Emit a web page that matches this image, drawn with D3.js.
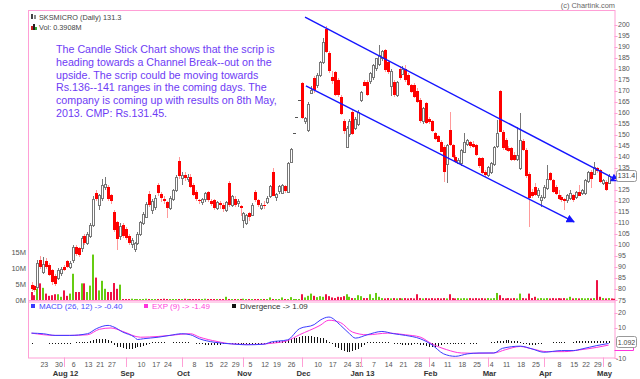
<!DOCTYPE html>
<html><head><meta charset="utf-8">
<script src="https://cdn.jsdelivr.net/npm/d3@7"></script>
<style>body{margin:0;background:#fff}svg{display:block;font-family:"Liberation Sans",Arial,sans-serif}</style>
</head><body><svg id="c" width="640" height="379"></svg>
<script>
// ---------- categories ----------
const firstDay = "2012-07-17", lastDay = "2013-05-06";
const holidays = ["2012-08-15","2012-08-20","2012-09-19","2012-10-02","2012-10-24","2012-11-14","2012-11-28",
  "2012-12-25","2013-03-27","2013-03-29","2013-04-19","2013-04-24","2013-05-01"];
const weekTicks = [["2012-07-23","23"],["2012-07-30","30"],["2012-08-06","6"],["2012-08-13","13"],["2012-08-21","21"],["2012-08-27","27"],
  ["2012-09-10","10"],["2012-09-17","17"],["2012-09-24","24"],["2012-10-08","8"],["2012-10-15","15"],["2012-10-22","22"],["2012-10-29","29"],
  ["2012-11-05","5"],["2012-11-12","12"],["2012-11-19","19"],["2012-11-26","26"],["2012-12-10","10"],["2012-12-17","17"],["2012-12-24","24"],
  ["2012-12-31","31"],["2013-01-07","7"],["2013-01-14","14"],["2013-01-21","21"],["2013-01-28","28"],["2013-02-04","4"],["2013-02-11","11"],
  ["2013-02-18","18"],["2013-02-25","25"],["2013-03-04","4"],["2013-03-11","11"],["2013-03-18","18"],["2013-03-25","25"],["2013-04-08","8"],
  ["2013-04-15","15"],["2013-04-22","22"],["2013-04-29","29"],["2013-05-06","6"]];
const monthTicks = [["2012-08-01","Aug 12"],["2012-09-03","Sep"],["2012-10-01","Oct"],["2012-11-01","Nov"],["2012-12-03","Dec"],
  ["2013-01-01","Jan 13"],["2013-02-01","Feb"],["2013-03-01","Mar"],["2013-04-01","Apr"],["2013-05-02","May"]];
const priceTicks = [200,195,190,185,180,175,170,165,160,155,150,145,140,135,130,125,120,115,110,105,100,95,90,85,80,75];
const volTicks = [[0,"0M"],[5,"5M"],[10,"10M"],[15,"15M"]];
const macdTicks = [20,10,-10];

// ---------- series ----------
const open = [82,81.5,81,93,88,92.5,91,88.5,86,85,87,90,92.5,90,93,99,98.5,98.5,104,101,104,109,123.5,118,121,126,126.4,122.5,115,110.5,
 104,109,107,104,100,98,101,105,110,112.7,123,116,117.5,127,123,121,119.5,117,121,125,138,130,131.5,130,131,127,124,120.5,119.5,120.5,
 124,120,120.4,117,119,118,115.8,128,118,121,119,117.5,111,110,114.4,113.7,124.2,120.4,117,118,119.5,122,133.2,121.5,124.2,123.5,126.5,124,137.8,150.6,
 158,165.7,173.4,156,152,169,175.6,172.6,177,183,198,187,176,178.6,174.8,167.3,156,144.6,150,160.5,153,155,165.7,174.1,174,174.1,176,180,182,185,
 188.4,183,172.4,174.1,168,180,177.8,180,177,172.5,172.5,170,165.7,156,164.2,157,156,150.6,149.5,146.8,144.6,137,152,145.3,140,137.5,137,142.3,146,146.5,
 146,145.3,139.3,139.3,133.2,131.7,133,137,144.6,170,151,147.6,144,143.8,141,139,135,147,143,132,124,126.4,122.6,120.4,121.9,126,132.5,129.5,126.4,122.6,
 121.9,121,120.4,121.2,122.6,121.9,124.2,123.4,123.4,128.7,133,132.5,134.7,134,128,128.7,128];
const high = [83,82,93,95,94.5,94,92,89,87,89.5,90,91,93,92.5,100,100,99,104,105,106,110,122,125,123,130,131,127,123,116,111,
 110,110,108,105,103,101.5,106,111,115,119.5,124.5,121,122.5,128,124,122,120,122,125.5,131.5,140,133,133,132,132,128,125,121,121.5,124,
 124.5,121,121,120,120,119,120,129,122.5,122,121,118,115,114,115,119,125,121,119,120,122,127,134.7,123.5,127,127.5,127,137.5,144,150.6,
 158,165.7,174,158,165,172,176.5,178,183.5,194,199.5,188,179,179,175.5,168,157,154,157,161,158,161,170,175,175,178.5,182,185,190.7,188.5,
 189,184,180,175,174.5,181,181,181.5,178,173,173.5,171,166.5,162.5,165,158,156.5,151,150,147.5,145.5,146,160.5,146,141,139.5,143.5,150.6,148,147,
 147,146,140,140,134,136,137.5,145,156.7,170.5,152,148.5,145,144.5,142,153.6,160,148,144,133,125.5,128,126,122.5,127,136.2,133,130,127,125,
 122.5,121.5,123,125,123,124.5,127,125.5,130,133.5,134,137.8,135.5,134.5,130,129.5,132];
const low = [79,78.5,80,89,87,89,86,82,81.5,84,86,88,89.5,89,92,95,94.5,97,100,100,103,108,120,116,120,125,120,118.5,106,97.7,
 102,103,102,100,98.5,97,100,104,109,112,117,114,116,122,119.5,118.5,112,116,120,124,130,127,129,128.5,126,122,120,118.5,118,119.5,
 119.5,117.5,116,116,116.5,115,115,117,117,117,117,113,107.6,109,111,113,119.5,117,116,116.5,118.5,121.5,122,120,123,123,123.5,123.4,137,150.6,
 158,165.7,157,155,151,168.5,169,171,176,182,187,178,173,167.5,167,159,150.5,144,149,150,152,154,165,172,167.5,173,175,179,181,183.5,
 178.5,177.5,167.5,167,167,175,177,174,172,169,166.5,164.5,155.5,155,155,155,151,147.5,146.5,142,128.7,128,145,139.5,137,137,136,141.5,145,144,
 144,140.5,135,132,131,131,132,136,144,151,143,142.5,142,138,138,138,134,142.5,130.5,108,121.5,122,121.5,117.3,121,125,129,123.5,122.5,120.5,
 119.5,116,118.8,120.5,119.5,121,122,122.5,122.5,128,126,131.5,132.5,128,127,124.5,127.5];
const close = [80,79.5,92,90,91.5,90,86.5,83,82.5,88.5,89,88.5,90,92,99,96,95.5,103,101,105,109,121,121,122.5,127,127.5,121,120,107,103,
 108.5,104,103,101,102,100.7,105,110.5,114,118.7,118,120,121.5,123.4,121,120,117,121.5,124.9,131,131,131.5,130,131,126.5,122.5,121,120,121,123.4,
 120.4,118.5,116.7,119.5,118,116,119.5,118,122,118.5,120,116.5,114.4,113.5,112.5,118.2,120.4,118,118.2,117.5,121.5,126.5,122.5,123,126.5,127,124.2,137,143.5,150.6,
 158,165.7,157.5,157.5,164,170.5,170.3,177,183,192,187.6,179,174,168,168,159.7,151.4,153,156,150.6,157,160.5,169.5,172.5,168,177.8,181.6,184.6,186,188,
 179.4,178.6,179,168,174,176,180,174.8,172.6,169.5,167,165,156,162,155.2,155.5,151.4,148,147,142.3,133.3,145.4,145.3,140,137.7,138.7,143,146.8,147.6,144.6,
 144.6,140.8,135.5,132.5,131.7,135.5,137,144.6,150.6,151.5,143.8,143,142.5,138.5,138.7,141,147.6,143,131,121,122,122.6,124.9,121.9,126.4,130,129.5,124.2,123.4,121,
 120.4,120,122.6,123.4,120.4,124.2,122.6,124.9,129.4,133,130,135.5,133.2,128.7,129.4,124.9,131.3];
const volume = [2.5,1.5,3.5,5.2,3.8,2,1.3,1.5,1.8,1.8,1,3,1.3,2,8.2,2.5,2.5,5.2,5.2,2.5,4.5,14.2,7,3,6,3.5,2.5,2.5,5.3,3.5,4.8,
 0.3,0.3,0.2,0.4,0.3,0.3,0.2,0.3,0.4,0.3,0.3,0.2,0.3,0.3,0.4,0.3,0.3,0.3,0.2,0.3,0.3,0.4,0.3,0.3,0.2,0.3,0.3,0.3,0.4,0.3,
 0.2,0.3,0.3,0.3,0.3,1.0,0.3,0.3,0.2,0.3,0.3,0.4,0.3,0.3,0.3,0.2,0.3,0.3,0.3,0.3,0.8,0.3,0.3,0.3,0.8,0.3,0.3,0.9,0.3,0.3,0.3,
 1.8,0.8,1.3,2.0,1.3,0.9,1.2,1.0,1.8,1.2,0.8,0.6,1.0,0.9,1.2,1.8,1.0,0.6,0.6,1.5,1.2,0.6,0.6,1.8,0.6,2.2,1.0,0.6,0.5,0.6,0.5,0.6,
 0.5,0.6,0.5,0.6,0.5,0.6,0.5,1.8,0.6,0.5,0.6,0.5,0.6,0.5,0.6,0.5,0.6,0.5,1.8,0.6,0.5,0.6,0.5,0.6,0.5,0.6,0.5,0.6,0.5,0.6,0.5,0.6,0.5,
 0.6,2.2,1.5,0.6,0.5,0.6,0.5,0.6,0.5,2.0,0.6,0.5,2.0,0.6,1.0,0.5,0.6,0.5,0.6,0.5,0.6,0.5,0.6,0.5,0.6,0.5,1.0,0.5,0.6,0.5,0.6,0.5,0.6,0.5,
 0.6,6.2,1.0,0.6,0.5,0.6,0.5,0.4];
const divergence = [-0.3,0,0,0,0,0, -0.3,-0.3,-0.3,-0.3,-0.3,-0.3,-0.3,-0.3, 0, 0.4,0.5,0.5,0.6,0.8, 1.5,2,2.3,2.7,2.7,2.5,2,1,
 -1.5,-2.5,-3,-3.5,-4,-4,-4,-3.5,-3,-2.5,-2,-1.5, -0.5, 0.3,0.3,0.3,0.3,0.3, 0,0, 0.4,0.4,0.4,0.4,0.4,0.4, 0,0,
 -0.5,-1,-1,-1.3,-1.5,-1.5,-1.5,-1.3,-1.2,-1,-1,-0.8,-0.5, -0.3,-0.3, -0.6,-0.6,-0.5,-0.5,-0.5,-0.4,-0.4,-0.3,-0.3,-0.2,
 0.5,0.8,1,1.2,1.3,1.5,1.8, 2.5,3,3.5,4,4.3,4.5,4.5,4.3,4,3.8,3.5, 3,2,0.5,-1,-2.5, -3.5,-4.5,-5.5,-6,-6,-5.5,-5,-4,-3,-1.5,
 0.3,0.3,0.3,0.3,0.3,0.3,0.3,0.3, 0, -0.8,-1,-1,-1.1,-1.2,-1.2,-1.1,-1,-1,-1.2, -1.5,-2,-2.5,-2.5,-2.5,-2,-1.5,
 -0.5,-0.4,-0.3,-0.3,-0.3,-0.3,-0.3,-0.2,0, 0.2,0.2,0.1,0,0,0,0,0.3,0.6, 1,1.3,1.5,1.8,1.8,1.5,1.3,1,0.8,
 -0.5,-1,-1.2,-1.3,-1.2,-1,-0.5, 0,0,0,0.3,0.3,0.3,0.3,0.3,0,0, 0.8,1,1.2,1.3,1.4,1.5,1.5,1.4,1.3,1.2,1.1,1.1,1.09];
// MACD and signal lines, read at points [day index, value]
const macdPts = [[0,6.4],[4,6],[8,4.9],[13,4.9],[19,6],[22,9.3],[26,11.5],[28,10.4],[31,7.1],[35,3.7],[36,2.2],[38,2.7],[43,3.7],
 [47,4.9],[51,6],[54,5.3],[57,2.7],[62,0.4],[68,-0.7],[73,-1.3],[79,-0.9],[81,0.4],[87,2],[91,9.3],[96,12],[98,14.9],[101,17],
 [105,11.5],[108,6],[110,3.1],[114,5.3],[119,7.5],[123,6],[127,4.9],[132,2.7],[136,-1.3],[140,-7.3],[144,-8.9],[148,-7.3],
 [152,-6.7],[157,-6.7],[160,-3.6],[166,-2.2],[170,-4],[174,-6.2],[180,-5.1],[184,-5.1],[187,-4],[192,-1.8],[196,-0.4]];
const signalPts = [[0,6.4],[8,4.9],[13,4.9],[19,5.3],[23,8.9],[27,9.8],[31,7.5],[37,3.7],[43,4.2],[47,4.9],[54,6],[57,3.8],[63,0.9],
 [68,-0.7],[75,-1.1],[82,-0.2],[87,1.5],[91,5.3],[98,11.5],[101,14.9],[105,13.3],[109,7.1],[114,5.3],[121,6.4],[127,5.3],[132,3.8],
 [136,-0.7],[141,-4.5],[146,-6.7],[151,-6.9],[157,-6.7],[161,-4.5],[166,-2.4],[170,-4],[175,-5.8],[181,-5.8],[186,-4.7],[192,-3],[196,-1.49]];
// channel lines [day index, price]
const channelUpper = [[92.9,203.4],[199.4,129.0]];
const channelLower = [[93.2,172.1],[184.3,110.4]];
const noteLines = ["The Candle Stick Chart shows that the scrip is","heading towards a Channel Break--out on the",
 "upside. The scrip could be moving towards","Rs.136--141 ranges in the coming days. The",
 "company is coming up with results on 8th May,","2013. CMP: Rs.131.45."];

// ---------- build ----------
const parse = d3.utcParse("%Y-%m-%d"), fmt = d3.utcFormat("%Y-%m-%d");
const hol = new Set(holidays);
const days = d3.utcDay.range(parse(firstDay), d3.utcDay.offset(parse(lastDay),1))
  .filter(d => d.getUTCDay()>0 && d.getUTCDay()<6 && !hol.has(fmt(d))).map(fmt);
const idx = new Map(days.map((d,i)=>[d,i]));
const N = close.length;

const svg = d3.select("#c");
const PINK = "#ff9fd6", AX = "#555";
const L = 28, R = 614.5, T = 10, PB = 300, MT = 301.5, MB = 357.5;

const x = d3.scaleLinear().domain([0, N-1]).range([31.5, 608.6]);
const y = d3.scaleLinear().domain([75,200]).range([300,24.5]);
const yv = d3.scaleLinear().domain([0,15]).range([300,252]);
const ym = d3.scaleLinear().domain([-10,20]).range([358,312.5]);
const px = i => Math.round(x(i));

// frame
svg.append("rect").attr("x",L+0.5).attr("y",T+0.5).attr("width",R-L).attr("height",MB-T)
  .attr("fill","none").attr("stroke",PINK);
svg.append("line").attr("x1",L).attr("x2",R+1).attr("y1",PB+0.5).attr("y2",PB+0.5).attr("stroke",PINK);
svg.append("line").attr("x1",L).attr("x2",R+1).attr("y1",MT+0.5).attr("y2",MT+0.5).attr("stroke",PINK);

// volume
const gV = svg.append("g");
volume.forEach((v,i)=>{
  const h = Math.max(1, yv(0)-yv(v));
  gV.append("rect").attr("x",px(i)-1).attr("y",yv(0)-h).attr("width",2).attr("height",h)
    .attr("fill", close[i]>=open[i] ? "#66cc11" : "#ee1144");
});

// candles
const gC = svg.append("g").attr("shape-rendering","crispEdges");
for (let i=0;i<N;i++){
  const cx = px(i), up = close[i]>=open[i];
  const yt = y(Math.max(open[i],close[i])), yb = y(Math.min(open[i],close[i]));
  if (high[i]===low[i]) {
    gC.append("rect").attr("x",cx-1).attr("y",Math.round(y(close[i]))).attr("width",3).attr("height",1).attr("fill","#555");
    continue;
  }
  gC.append("line").attr("x1",cx+0.5).attr("x2",cx+0.5).attr("y1",y(high[i])).attr("y2",y(low[i]))
    .attr("stroke", up ? "#777" : "#ff9a9a").attr("stroke-width",1);
  if (up) {
    gC.append("rect").attr("x",cx-0.5).attr("y",Math.round(yt)+0.5).attr("width",2).attr("height",Math.max(1,Math.round(yb-yt)))
      .attr("fill","#fff").attr("stroke","#777");
  } else {
    gC.append("rect").attr("x",cx-1).attr("y",Math.round(yt)).attr("width",3).attr("height",Math.max(1,Math.round(yb-yt)))
      .attr("fill","#ff0000");
  }
}

// channel lines
const defs = svg.append("defs");
defs.append("marker").attr("id","arr").attr("viewBox","0 0 10 10").attr("refX",9).attr("refY",5)
  .attr("markerWidth",6).attr("markerHeight",6).attr("markerUnits","strokeWidth").attr("orient","auto")
  .append("path").attr("d","M0,0L10,5L0,10Z").attr("fill","#1515ff");
[channelUpper, channelLower].forEach(c=>{
  svg.append("line").attr("x1",x(c[0][0])).attr("y1",y(c[0][1])).attr("x2",x(c[1][0])).attr("y2",y(c[1][1]))
    .attr("stroke","#1515ff").attr("stroke-width",1.4).attr("marker-end","url(#arr)");
});

// price axis (right); the last-price box hides labels under it
const lp = close[N-1];
const gA = svg.append("g").attr("font-size","7px").attr("fill",AX);
priceTicks.forEach(p=>{
  svg.append("line").attr("x1",R).attr("x2",R+3).attr("y1",Math.round(y(p))+0.5).attr("y2",Math.round(y(p))+0.5).attr("stroke",PINK);
  if (Math.abs(y(p)-y(lp)) < 8) return;
  gA.append("text").attr("x",618).attr("y",y(p)+2.5).text(p);
});
svg.append("rect").attr("x",616.5).attr("y",Math.round(y(lp))-5.5).attr("width",20).attr("height",11).attr("rx",2)
  .attr("fill","#fff").attr("stroke","#999");
svg.append("text").attr("x",626.5).attr("y",y(lp)+2.5).attr("text-anchor","middle").attr("font-size","7px").attr("fill","#444")
  .text(d3.format(".1f")(lp+0.05));

// volume axis (left)
volTicks.forEach(([v,t])=>{
  svg.append("text").attr("x",26).attr("y",yv(v)+2.5).attr("text-anchor","end").attr("font-size","7.5px").attr("fill",AX).text(t);
});

// MACD panel
const gD = svg.append("g").attr("shape-rendering","crispEdges");
divergence.forEach((v,i)=>{
  if (v===0) return;
  const y0 = ym(0), y1 = ym(v);
  gD.append("rect").attr("x",px(i)-0.5).attr("y",Math.min(y0,y1)).attr("width",1.6).attr("height",Math.max(1,Math.abs(y1-y0)))
    .attr("fill","#111");
});
const ln = d3.line().x(d=>x(d[0])).y(d=>ym(d[1])).curve(d3.curveMonotoneX);
svg.append("path").attr("d",ln(signalPts)).attr("fill","none").attr("stroke","#ff33dd").attr("stroke-width",1);
svg.append("path").attr("d",ln(macdPts)).attr("fill","none").attr("stroke","#3b3bff").attr("stroke-width",1);
macdTicks.forEach(v=>{
  svg.append("line").attr("x1",R).attr("x2",R+3).attr("y1",Math.round(ym(v))+0.5).attr("y2",Math.round(ym(v))+0.5).attr("stroke",PINK);
  gA.append("text").attr("x",v<0?616:618).attr("y",ym(v)+2.5).text(v);
});
const dv = divergence[N-1];
svg.append("polyline").attr("points",`${R},350.5 633.5,350.5 633.5,346`).attr("fill","none").attr("stroke","#ff33dd");
svg.append("rect").attr("x",616.5).attr("y",336.5).attr("width",20).attr("height",11).attr("rx",2).attr("fill","#fff").attr("stroke","#999");
svg.append("text").attr("x",626.5).attr("y",344.5).attr("text-anchor","middle").attr("font-size","7px").attr("fill","#444").text(d3.format(".3f")(dv+0.002));

// MACD legend
const leg = [["#3b3bff","MACD (26, 12) -> -0.40",31,"#4a4aff"],["#ff33dd","EXP (9) -> -1.49",144,"#ff44dd"],["#111","Divergence -> 1.09",232,"#333"]];
leg.forEach(([c,t,lx,tc])=>{
  svg.append("rect").attr("x",lx).attr("y",304).attr("width",4).attr("height",4).attr("fill",c);
  svg.append("text").attr("x",lx+8).attr("y",309).attr("font-size","8px").attr("fill",tc).text(t);
});

// x axis
weekTicks.forEach(([d,t])=>{
  if (!idx.has(d)) return;
  svg.append("text").attr("x",x(idx.get(d))+1).attr("y",367).attr("text-anchor","middle").attr("font-size","7px").attr("fill",AX).text(t);
});
monthTicks.forEach(([d,t])=>{
  if (!idx.has(d)) return;
  const mx = px(idx.get(d))+0.5;
  svg.append("line").attr("x1",mx).attr("x2",mx).attr("y1",MB).attr("y2",367).attr("stroke",PINK);
  svg.append("text").attr("x",mx+1).attr("y",376).attr("text-anchor","middle").attr("font-size","7.7px")
    .attr("font-weight","bold").attr("fill","#333").text(t);
});

// header texts
svg.append("text").attr("x",615).attr("y",8).attr("text-anchor","end").attr("font-size","7.4px").attr("fill","#666").text("(c) Chartink.com");
svg.append("rect").attr("x",31).attr("y",14).attr("width",2).attr("height",5).attr("fill","#444");
svg.append("rect").attr("x",34).attr("y",15).attr("width",2).attr("height",4).attr("fill","#888");
svg.append("text").attr("x",39).attr("y",20).attr("font-size","7.3px").attr("fill","#444").text("SKSMICRO (Daily) " + close[N-1]);
svg.append("rect").attr("x",31).attr("y",26).attr("width",2).attr("height",4).attr("fill","#cc2222");
svg.append("rect").attr("x",33).attr("y",24).attr("width",2).attr("height",6).attr("fill","#222");
svg.append("rect").attr("x",35).attr("y",27).attr("width",2).attr("height",3).attr("fill","#33aa33");
svg.append("text").attr("x",39).attr("y",30).attr("font-size","7.3px").attr("fill","#444").text("Vol: 0.3908M");

// annotation
const note = svg.append("text").attr("font-size","10.7px").attr("fill","#6e3cf5");
noteLines.forEach((t,k)=> note.append("tspan").attr("x",56).attr("y",53+k*12.8).text(t));
</script></body></html>
